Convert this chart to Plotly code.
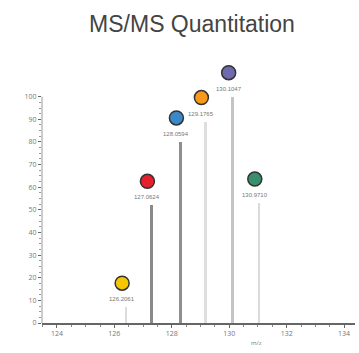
import plotly.graph_objects as go

# Data
mz = [126.41, 127.29, 128.30, 129.17, 130.12, 131.03]
intensity = [7, 52, 80, 89, 100, 53]
peak_labels = ["126.2061", "127.0624", "128.0594", "129.1765", "130.1047", "130.9710"]
dot_colors = ["#F6C700", "#E3202B", "#3B88C9", "#F6991C", "#6F69AD", "#3A8E6E"]
stem_colors = ["#dcdcdc", "#8a8a8a", "#8f8f8f", "#dedede", "#c4c4c4", "#dadada"]
stem_widths = [0.05, 0.11, 0.11, 0.09, 0.11, 0.09]
x_ticks = [124, 126, 128, 130, 132, 134]
y_ticks = [0, 10, 20, 30, 40, 50, 60, 70, 80, 90, 100]

X_RANGE = [123.48, 134.38]
Y_RANGE = [0, 114]
L, R, T, B = 42, 4, 65, 30
PLOT_W = 359 - L - R
PLOT_H = 353 - T - B
px_per_y = PLOT_H / (Y_RANGE[1] - Y_RANGE[0])
px_per_x = PLOT_W / (X_RANGE[1] - X_RANGE[0])
DOT_LIFT_PX = 24
DOT_SHIFT_PX = -4

fig = go.Figure()
fig.add_trace(go.Bar(
    x=mz, y=intensity, width=stem_widths,
    marker=dict(color=stem_colors, line=dict(width=0)),
    showlegend=False, hoverinfo="skip",
))

for x, y, lab in zip(mz, intensity, peak_labels):
    fig.add_annotation(x=x, y=y, text=lab, showarrow=False, xshift=DOT_SHIFT_PX, yshift=8,
                       font=dict(size=6, color="#777", family="Liberation Sans"))

fig.add_trace(go.Scatter(
    x=[v + DOT_SHIFT_PX / px_per_x for v in mz],
    y=[v + DOT_LIFT_PX / px_per_y for v in intensity],
    mode="markers",
    marker=dict(size=14, color=dot_colors, line=dict(color="#333", width=1.5)),
    showlegend=False, cliponaxis=False, hoverinfo="skip",
))

# y-axis line only spanning the labelled 0-100 range
fig.add_shape(type="line", xref="paper", yref="y", x0=0, x1=0, y0=y_ticks[0], y1=y_ticks[-1],
              line=dict(color="#999", width=1))

fig.update_layout(
    width=359, height=353,
    margin=dict(l=L, r=R, t=T, b=B),
    paper_bgcolor="white", plot_bgcolor="white",
    title=dict(text="MS/MS Quantitation", x=192 / 359, xanchor="center", y=1 - 24 / 353, yanchor="middle",
               font=dict(size=23, color="#444", family="Liberation Sans")),
    bargap=0,
    xaxis=dict(range=X_RANGE, tickvals=x_ticks, ticktext=[str(t) for t in x_ticks],
               automargin=False,
               showgrid=False, zeroline=False, showline=True, linecolor="#666", linewidth=1.5,
               ticks="outside", ticklen=3, tickcolor="#666",
               minor=dict(dtick=0.5, ticks="outside", ticklen=2, tickcolor="#888"),
               tickfont=dict(size=7, color="#777")),
    yaxis=dict(range=Y_RANGE, tickvals=y_ticks, ticktext=[str(t) for t in y_ticks],
               automargin=False,
               showgrid=False, zeroline=False, showline=False,
               ticks="outside", ticklen=3, tickcolor="#666",
               minor=dict(tickvals=[v + 2.5 * k for v in y_ticks[:-1] for k in (1, 2, 3)],
                          ticks="outside", ticklen=2, tickcolor="#999"),
               tickfont=dict(size=7, color="#777")),
)
fig.add_annotation(text="m/z", xref="paper", yref="paper", x=0.71, y=-0.1, showarrow=False,
                   font=dict(size=6, color="#777"))
fig.write_html("out.html",
               config={"displayModeBar": False},
               post_script="document.body.style.margin='0';document.body.style.padding='0';"
                           "document.body.style.overflow='hidden';")
